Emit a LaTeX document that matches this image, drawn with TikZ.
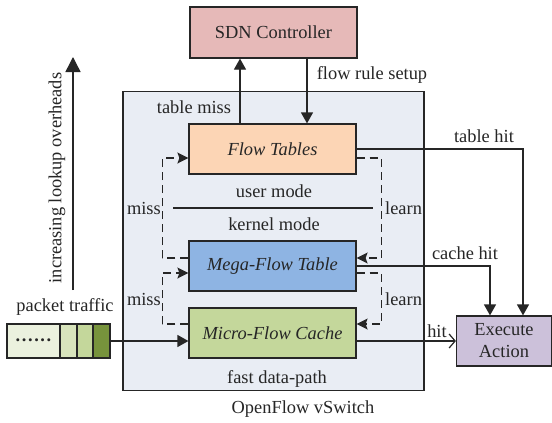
\documentclass[tikz,border=0pt]{standalone}
\usepackage{fontspec}
\setmainfont{Liberation Serif}
\usetikzlibrary{arrows.meta}
\definecolor{vswc}{HTML}{E9EDF4}
\definecolor{sdnc}{HTML}{E6B9B8}
\definecolor{ftc}{HTML}{FCD5B5}
\definecolor{mfc}{HTML}{8EB4E3}
\definecolor{mcc}{HTML}{C4D79B}
\definecolor{eac}{HTML}{CCC1DA}
\definecolor{pk0}{HTML}{EBF1DE}
\definecolor{pk1}{HTML}{D8E4BC}
\definecolor{pk2}{HTML}{C4D79B}
\definecolor{pk3}{HTML}{77933C}
\definecolor{ink}{HTML}{262626}
\tikzset{
  box/.style={draw=ink, line width=1.2pt, inner sep=0pt, text=ink},
  arr/.style={draw=ink, line width=1.2pt, -{Triangle[length=11pt,width=12pt]}},
  bigarr/.style={draw=ink, line width=1.4pt, -{Triangle[length=15pt,width=15pt]}},
  dsh/.style={draw=ink, line width=1.2pt, dash pattern=on 8pt off 5pt, -{Stealth[length=11pt,width=11pt,inset=2pt]}},
  lbl/.style={text=ink, inner sep=0pt},
}
\begin{document}
\begin{tikzpicture}[x=1pt,y=-1pt, font=\fontsize{18.4}{20}\selectfont]
\useasboundingbox (0,0) rectangle (552,423);
\fill[white] (0,0) rectangle (552,423);
% vSwitch
\node[box, fill=vswc, minimum width=301pt, minimum height=299pt] (vs) at (273.5,241) {};
% main boxes
\node[box, fill=sdnc, minimum width=167pt, minimum height=51pt] (sdn) at (273.5,32.5) {SDN Controller};
\node[box, fill=ftc, minimum width=167pt, minimum height=50pt] (ft) at (272.5,149) {\itshape Flow Tables};
\node[box, fill=mfc, minimum width=167pt, minimum height=50pt] (mf) at (272.5,266) {\itshape Mega-Flow Table};
\node[box, fill=mcc, minimum width=167pt, minimum height=50pt] (mc) at (272.5,333) {\itshape Micro-Flow Cache};
\node[box, fill=eac, minimum width=95pt, minimum height=50pt, align=center, font=\fontsize{18.4}{22}\selectfont] (ea) at (504,341) {Execute\\Action};
% packet traffic
\node[box, fill=pk0, minimum width=53pt, minimum height=34pt] (p0) at (33.5,341) {\raisebox{2pt}{\bfseries .\kern1.6pt.\kern1.6pt.\kern1.6pt.\kern1.6pt.\kern1.6pt.}};
\node[box, fill=pk1, minimum width=17pt, minimum height=34pt] (p1) at (68.5,341) {};
\node[box, fill=pk2, minimum width=16pt, minimum height=34pt] (p2) at (85,341) {};
\node[box, fill=pk3, minimum width=17pt, minimum height=34pt] (p3) at (101.5,341) {};
% helper coordinates
\coordinate (tm) at (240,0);
\coordinate (fr) at (307,0);
% connectors
\draw[arr] (tm |- ft.north) -- (tm |- sdn.south);
\draw[arr] (fr |- sdn.south) -- (fr |- ft.north);
\draw[arr] (p3.east) -- (p3.east -| mc.west);
\draw[draw=ink, line width=1.2pt, -{Straight Barb[length=6pt,width=14pt]}] (ea.west -| mc.east) -- (ea.west);
\draw[arr] (ft.east) -| ([xshift=19pt]ea.north);
\draw[arr] (mf.east) -| ([xshift=-14pt]ea.north);
% dashed loops
\draw[dsh] ([yshift=8pt]mf.west) -- ++(-26,0) |- ([yshift=-9pt]ft.west);
\draw[dsh] ([yshift=-9pt]ft.east) -- ++(25,0) |- ([yshift=8pt]mf.east);
\draw[dsh] ([yshift=9pt]mc.west) -- ++(-26,0) |- ([yshift=-7pt]mf.west);
\draw[dsh] ([yshift=-7pt]mf.east) -- ++(25,0) |- ([yshift=9pt]mc.east);
% user/kernel divider
\draw[ink, line width=1.2pt] (173,208) -- (373,208);
% overhead arrow
\draw[bigarr] (73,290) -- (73,57);
% labels
\node[lbl, rotate=90] (ov) at (57,178) {increasing lookup overheads};
\node[lbl] (ltm) at (194,107) {table miss};
\node[lbl] (lfr) at (372,75) {flow rule setup};
\node[lbl] (lum) at (274,191) {user mode};
\node[lbl] (lkm) at (274,224) {kernel mode};
\node[lbl, anchor=east] (lm1) at (161,208) {miss};
\node[lbl, anchor=east] (lm2) at (161,299) {miss};
\node[lbl, anchor=west] (ll1) at (385,208) {learn};
\node[lbl, anchor=west] (ll2) at (385,299) {learn};
\node[lbl] (lth) at (484,136) {table hit};
\node[lbl] (lch) at (465,253) {cache hit};
\node[lbl] (lh) at (437,331) {hit};
\node[lbl] (lpt) at (65,307) {packet traffic};
\node[lbl] (lfd) at (277,379) {fast data-path};
\node[lbl] (lov) at (303,409) {OpenFlow vSwitch};
\end{tikzpicture}
\end{document}
